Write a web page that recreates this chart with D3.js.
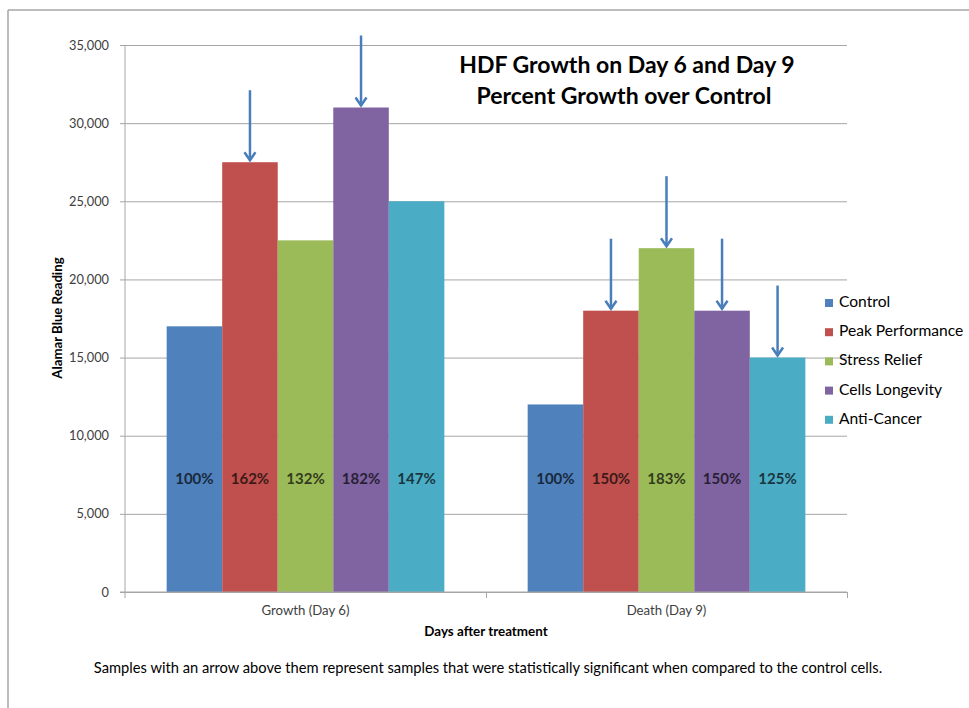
<!doctype html>
<html lang="en">
<head>
  <meta charset="utf-8">
  <title>HDF Growth on Day 6 and Day 9</title>
  <script src="https://cdn.jsdelivr.net/npm/d3@7"></script>
  <style type="text/css">
    body { margin: 0; background: #ffffff; font-family: "Lato", "Open Sans", sans-serif; }
    .tick text { fill: #404040; font-family: "Lato", sans-serif; }
    .grid line { stroke: #a6a6a6; }
  </style>
</head>
<body>
<div id="container"></div>
<script type="text/javascript">

  // Chart data
  var categories = ["Growth (Day 6)", "Death (Day 9)"];
  var seriesNames = ["Control", "Peak Performance", "Stress Relief", "Cells Longevity", "Anti-Cancer"];
  var seriesColors = ["#4f81bd", "#c0504d", "#9bbb59", "#8064a2", "#4bacc6"];
  var day6Values = [17000, 27500, 22500, 31000, 25000];
  var day9Values = [12000, 18000, 22000, 18000, 15000];
  var day6Percent = ["100%", "162%", "132%", "182%", "147%"];
  var day9Percent = ["100%", "150%", "183%", "150%", "125%"];
  // arrows mark significant samples
  var day6Significant = [false, true, false, true, false];
  var day9Significant = [false, true, true, true, true];
  var yTicks = [0, 5000, 10000, 15000, 20000, 25000, 30000, 35000];

  var width = 969, height = 708;
  var plot = { left: 125, right: 847, top: 45, bottom: 592 };

  var svg = d3.select("#container")
    .append("svg")
    .attr("width", width)
    .attr("height", height);

  // frame round the picture (only top and left edge show)
  svg.append("line").attr("x1", 8).attr("y1", 10).attr("x2", width).attr("y2", 10)
    .attr("stroke", "#a6a6a6").attr("stroke-width", 1.5);
  svg.append("line").attr("x1", 8).attr("y1", 10).attr("x2", 8).attr("y2", height)
    .attr("stroke", "#a6a6a6").attr("stroke-width", 1.5);

  // Scales
  var x0 = d3.scaleBand().domain(categories).range([plot.left, plot.right]);
  var x1 = d3.scaleBand().domain(seriesNames).range([0, x0.bandwidth()]).paddingOuter(0.75);
  var y = d3.scaleLinear().domain([0, 35000]).range([plot.bottom, plot.top]);
  var color = d3.scaleOrdinal().domain(seriesNames).range(seriesColors);

  // Gridlines + y axis
  svg.append("g")
    .attr("class", "grid")
    .attr("transform", "translate(" + plot.left + ",0)")
    .call(d3.axisLeft(y).tickValues(yTicks).tickSize(-(plot.right - plot.left)).tickFormat(""))
    .call(function(g) { g.select(".domain").remove(); });

  var yAxis = svg.append("g")
    .attr("transform", "translate(" + plot.left + ",0)")
    .call(d3.axisLeft(y).tickValues(yTicks).tickSize(5).tickPadding(11).tickFormat(d3.format(",")));
  yAxis.select(".domain").attr("d", "M0," + (plot.top) + "V" + (plot.bottom + 6)).attr("stroke", "#a6a6a6");
  yAxis.selectAll(".tick line").attr("stroke", "#a6a6a6");
  yAxis.selectAll(".tick text").style("font-size", "12.8px");

  // Bars
  var groups = [
    { cat: categories[0], values: day6Values, pct: day6Percent, sig: day6Significant },
    { cat: categories[1], values: day9Values, pct: day9Percent, sig: day9Significant }
  ];
  var rows = [];
  groups.forEach(function(g) {
    seriesNames.forEach(function(s, i) {
      rows.push({ cat: g.cat, series: s, value: g.values[i], pct: g.pct[i], sig: g.sig[i] });
    });
  });

  svg.selectAll(".bar")
    .data(rows)
    .enter()
    .append("rect")
    .attr("class", "bar")
    .attr("x", function(d) { return x0(d.cat) + x1(d.series); })
    .attr("y", function(d) { return y(d.value); })
    .attr("width", x1.bandwidth())
    .attr("height", function(d) { return y(0) - y(d.value); })
    .attr("fill", function(d) { return color(d.series); });

  // x axis: line and category ticks
  var xTickScale = d3.scaleLinear().domain([0, 2]).range([plot.left, plot.right]);
  var xAxis = svg.append("g")
    .attr("transform", "translate(0," + plot.bottom + ")")
    .call(d3.axisBottom(xTickScale).tickValues([1, 2]).tickSize(6).tickFormat(""));
  xAxis.select(".domain").attr("d", "M" + (plot.left - 5) + ",0H" + plot.right).attr("stroke", "#a6a6a6");
  xAxis.selectAll(".tick line").attr("stroke", "#a6a6a6");

  var xLabels = svg.append("g")
    .attr("transform", "translate(0," + plot.bottom + ")")
    .call(d3.axisBottom(x0).tickSize(0).tickPadding(14));
  xLabels.select(".domain").remove();
  xLabels.selectAll(".tick text").style("font-size", "13.2px");

  // Percent labels inside the bars
  svg.selectAll(".pct")
    .data(rows)
    .enter()
    .append("text")
    .attr("class", "pct")
    .attr("x", function(d) { return x0(d.cat) + x1(d.series) + x1.bandwidth() / 2; })
    .attr("y", y(7150))
    .attr("text-anchor", "middle")
    .attr("dominant-baseline", "middle")
    .style("font-size", "15px")
    .style("font-weight", "bold")
    .attr("fill", function(d) { return d3.color(color(d.series)).darker(3.2); })
    .text(function(d) { return d.pct; });

  // Arrows over the significant samples
  var arrowLen = 70;
  var arrows = svg.selectAll(".arrow")
    .data(rows.filter(function(d) { return d.sig; }))
    .enter()
    .append("g")
    .attr("class", "arrow")
    .attr("transform", function(d) {
      return "translate(" + (x0(d.cat) + x1(d.series) + x1.bandwidth() / 2) + "," + (y(d.value) - 2) + ")";
    });
  arrows.append("line")
    .attr("x1", 0).attr("y1", -arrowLen).attr("x2", 0).attr("y2", 0)
    .attr("stroke", "#4a7ebb").attr("stroke-width", 2.5);
  arrows.append("path")
    .attr("d", "M-5.5,-8L0,0L5.5,-8")
    .attr("fill", "none")
    .attr("stroke", "#4a7ebb").attr("stroke-width", 2.5);

  // Title
  svg.append("rect").attr("x", 450).attr("y", 50).attr("width", 355).attr("height", 60).attr("fill", "#ffffff");
  svg.append("text")
    .attr("x", 627).attr("y", 73)
    .attr("text-anchor", "middle")
    .style("font-size", "23px").style("font-weight", "bold").attr("fill", "#000")
    .text("HDF Growth on Day 6 and Day 9");
  svg.append("text")
    .attr("x", 624).attr("y", 104)
    .attr("text-anchor", "middle")
    .style("font-size", "23px").style("font-weight", "bold").attr("fill", "#000")
    .text("Percent Growth over Control");

  // Axis titles
  svg.append("text")
    .attr("transform", "translate(62,318) rotate(-90)")
    .attr("text-anchor", "middle")
    .style("font-size", "13.2px").style("font-weight", "bold").attr("fill", "#000")
    .text("Alamar Blue Reading");
  svg.append("text")
    .attr("x", 486).attr("y", 636)
    .attr("text-anchor", "middle")
    .style("font-size", "13.4px").style("font-weight", "bold").attr("fill", "#000")
    .text("Days after treatment");

  // Legend
  var legend = svg.selectAll(".legend")
    .data(seriesNames)
    .enter()
    .append("g")
    .attr("class", "legend")
    .attr("transform", function(d, i) { return "translate(825," + (303 + i * 29.2) + ")"; });
  legend.append("rect")
    .attr("x", 0).attr("y", -4).attr("width", 8).attr("height", 8)
    .attr("fill", function(d) { return color(d); });
  legend.append("text")
    .attr("x", 14).attr("y", 0)
    .attr("dominant-baseline", "middle")
    .style("font-size", "15.6px").attr("fill", "#000")
    .text(function(d) { return d; });

  // Footnote
  svg.append("text")
    .attr("x", 488).attr("y", 673)
    .attr("text-anchor", "middle")
    .style("font-size", "14.7px").attr("fill", "#000")
    .text("Samples with an arrow above them represent samples that were statistically significant when compared to the control cells.");

</script>
</body>
</html>
